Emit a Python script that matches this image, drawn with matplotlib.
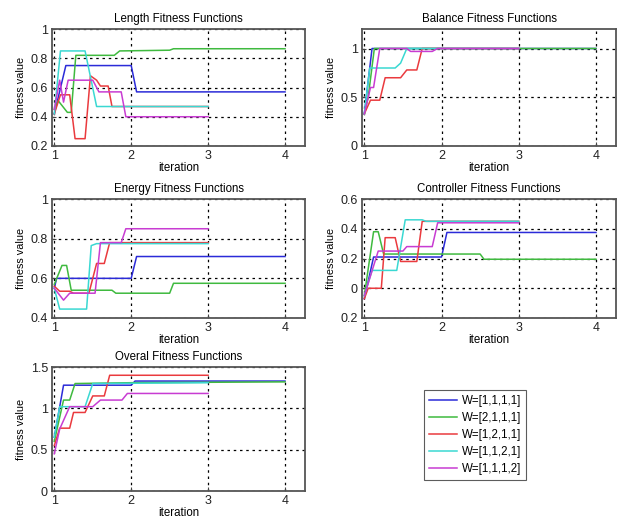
import matplotlib
matplotlib.use("Agg")
import matplotlib.pyplot as plt
from matplotlib.lines import Line2D

plt.rcParams['font.family'] = ['Liberation Sans', 'DejaVu Sans']

series_names = ["W=[1,1,1,1]", "W=[2,1,1,1]", "W=[1,2,1,1]", "W=[1,1,2,1]", "W=[1,1,1,2]"]
series_colors = ["#2b2bd8", "#3fba3f", "#ea3a3e", "#3ad8d2", "#c83cd2"]

# Length fitness
length_x = [
    [1, 1.15, 2.0, 2.07, 4],
    [1, 1.05, 1.17, 1.22, 1.28, 1.78, 1.85, 2.5, 2.55, 4],
    [1, 1.08, 1.2, 1.27, 1.4, 1.47, 1.55, 1.6, 1.7, 1.75, 3],
    [1, 1.08, 1.4, 1.55, 3],
    [1, 1.07, 1.12, 1.18, 1.5, 1.58, 1.87, 1.93, 3],
]
length_y = [
    [0.42, 0.75, 0.75, 0.57, 0.57],
    [0.45, 0.51, 0.43, 0.43, 0.82, 0.82, 0.85, 0.855, 0.865, 0.865],
    [0.42, 0.55, 0.55, 0.25, 0.25, 0.68, 0.65, 0.61, 0.61, 0.47, 0.47],
    [0.42, 0.85, 0.85, 0.47, 0.47],
    [0.45, 0.65, 0.5, 0.65, 0.65, 0.57, 0.57, 0.40, 0.40],
]

# Balance fitness
balance_x = [
    [1, 1.1, 4],
    [1, 1.05, 1.13, 4],
    [1, 1.08, 1.2, 1.27, 1.47, 1.55, 1.68, 1.75, 3],
    [1, 1.07, 1.4, 1.47, 1.55, 3],
    [1, 1.08, 1.12, 1.2, 1.55, 1.6, 1.88, 1.95, 3],
]
balance_y = [
    [0.33, 1.0, 1.0],
    [0.33, 0.5, 1.0, 1.0],
    [0.33, 0.47, 0.47, 0.7, 0.7, 0.78, 0.78, 1.0, 1.0],
    [0.33, 0.8, 0.8, 0.85, 1.0, 1.0],
    [0.33, 0.6, 0.6, 1.0, 1.0, 0.97, 0.97, 1.0, 1.0],
]

# Energy fitness
energy_x = [
    [1, 1.03, 2.0, 2.07, 4],
    [1, 1.1, 1.16, 1.22, 1.75, 1.8, 2.5, 2.55, 4],
    [1, 1.07, 1.2, 1.25, 1.45, 1.55, 1.65, 1.72, 3],
    [1, 1.07, 1.42, 1.48, 1.55, 3],
    [1, 1.12, 1.2, 1.53, 1.6, 1.87, 1.93, 3],
]
energy_y = [
    [0.55, 0.6, 0.6, 0.71, 0.71],
    [0.57, 0.665, 0.665, 0.54, 0.54, 0.525, 0.525, 0.575, 0.575],
    [0.56, 0.535, 0.535, 0.525, 0.525, 0.675, 0.675, 0.78, 0.78],
    [0.55, 0.445, 0.445, 0.765, 0.775, 0.775],
    [0.55, 0.49, 0.525, 0.525, 0.78, 0.78, 0.85, 0.85],
]

# Controller fitness
controller_x = [
    [1, 1.12, 2.0, 2.07, 4],
    [1, 1.12, 1.18, 1.25, 2.5, 2.55, 4],
    [1, 1.05, 1.22, 1.27, 1.4, 1.47, 1.68, 1.75, 3],
    [1, 1.1, 1.42, 1.53, 1.75, 1.8, 3],
    [1, 1.18, 1.5, 1.55, 1.88, 1.95, 3],
]
controller_y = [
    [-0.07, 0.21, 0.21, 0.375, 0.375],
    [-0.05, 0.38, 0.38, 0.23, 0.23, 0.195, 0.195],
    [-0.07, 0.0, 0.0, 0.34, 0.34, 0.18, 0.18, 0.45, 0.45],
    [-0.05, 0.12, 0.12, 0.46, 0.46, 0.45, 0.45],
    [-0.05, 0.25, 0.25, 0.28, 0.28, 0.44, 0.44],
]

# Overall fitness
overall_x = [
    [1, 1.12, 2.0, 2.05, 4],
    [1, 1.12, 1.2, 1.27, 2.0, 4],
    [1, 1.07, 1.2, 1.25, 1.4, 1.5, 1.65, 1.72, 3],
    [1, 1.07, 1.4, 1.5, 3],
    [1, 1.07, 1.2, 1.5, 1.6, 1.88, 1.95, 3],
]
overall_y = [
    [0.65, 1.28, 1.28, 1.33, 1.33],
    [0.6, 1.1, 1.1, 1.3, 1.31, 1.32],
    [0.55, 0.76, 0.76, 0.95, 0.95, 1.15, 1.15, 1.4, 1.4],
    [0.65, 1.02, 1.02, 1.3, 1.31],
    [0.45, 0.75, 1.02, 1.02, 1.1, 1.1, 1.18, 1.18],
]

W, H = 618, 518
fig = plt.figure(figsize=(W / 100, H / 100), dpi=100)


def px_axes(left, top, right, bottom):
    return fig.add_axes([left / W, 1 - bottom / H, (right - left) / W, (bottom - top) / H])


panels = [
    ("Length Fitness Functions", length_x, length_y, (52, 29, 305, 146), (0.2, 1.0),
     [0.2, 0.4, 0.6, 0.8, 1.0], ["0.2", "0.4", "0.6", "0.8", "1"]),
    ("Balance Fitness Functions", balance_x, balance_y, (362, 29, 616, 146), (0.0, 1.2),
     [0, 0.5, 1.0], ["0", "0.5", "1"]),
    ("Energy Fitness Functions", energy_x, energy_y, (52, 199, 305, 318), (0.4, 1.0),
     [0.4, 0.6, 0.8, 1.0], ["0.4", "0.6", "0.8", "1"]),
    ("Controller Fitness Functions", controller_x, controller_y, (362, 199, 616, 318), (-0.2, 0.6),
     [-0.2, 0, 0.2, 0.4, 0.6], ["0.2", "0", "0.2", "0.4", "0.6"]),
    ("Overal Fitness Functions", overall_x, overall_y, (52, 367, 305, 491), (0.0, 1.5),
     [0, 0.5, 1.0, 1.5], ["0", "0.5", "1", "1.5"]),
]

for title, xs, ys, box, ylim, yt, ytl in panels:
    ax = px_axes(*box)
    for xv, yv, c in zip(xs, ys, series_colors):
        ax.plot(xv, yv, color=c, lw=1.1)
    ax.set_xlim(0.97, 4.26)
    ax.set_ylim(*ylim)
    ax.set_xticks([1, 2, 3, 4])
    ax.set_xticklabels(["1", "2", "3", "4"])
    ax.set_yticks(yt)
    ax.set_yticklabels(ytl)
    ax.grid(True, color="black", linestyle=(0, (2, 3)), linewidth=0.9)
    ax.tick_params(direction="in", length=3, labelsize=9, pad=3, color="#444444",
                   labelcolor="#222222")
    for s in ax.spines.values():
        s.set_color("#555555")
        s.set_linewidth(1.3)
    ax.set_title(title, fontsize=8.3, pad=5)
    ax.set_xlabel("iteration", fontsize=8.3, labelpad=0)
    ax.set_ylabel("fitness value", fontsize=7.8, labelpad=3)

handles = [Line2D([0], [0], color=c, lw=1.1) for c in series_colors]
leg = fig.legend(handles, series_names, loc="upper left",
                 bbox_to_anchor=(424 / W, 1 - 390 / H), fontsize=8.3,
                 frameon=True, fancybox=False, handlelength=2.5, handletextpad=0.4,
                 borderpad=0.4, labelspacing=0.45, borderaxespad=0)
leg.get_frame().set_edgecolor("#333333")
leg.get_frame().set_linewidth(0.8)

fig.savefig("out.png", dpi=100)
